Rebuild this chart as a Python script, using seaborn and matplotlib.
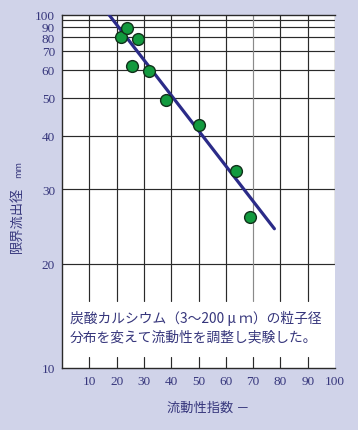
import numpy as np
import pandas as pd
import matplotlib
matplotlib.use("Agg")
import matplotlib.pyplot as plt
import seaborn as sns

# ---- data ----
flow_index = [21.5, 23.9, 27.9, 25.8, 31.8, 38.0, 50.2, 63.6, 68.9]
critical_diameter = [80.7, 88.7, 79.0, 61.7, 59.7, 49.2, 42.7, 33.0, 25.8]
fit_x = [17.2, 77.8]
fit_y = [100.0, 24.2]
x_ticks = [10, 20, 30, 40, 50, 60, 70, 80, 90, 100]
y_ticks = [10, 20, 30, 40, 50, 60, 70, 80, 90, 100]
y_minor = [95]
note = "炭酸カルシウム（3～200 μ ｍ）の粒子径\n分布を変えて流動性を調整し実験した。"
xlabel = "流動性指数 －"
ylabel = "限界流出径"
yunit = "mm"

# ---- styling ----
BG = "#d0d3e9"
TXT = "#36367c"
GRID = "#2a2a2a"
LINE = "#2b2b88"
DOT = "#129a3e"

sns.set_theme(style="white")
plt.rcParams["font.family"] = ["Noto Sans CJK JP", "DejaVu Sans"]

# hand-drawn logarithmic axis: calibration of the printed grid
_cal_v = np.log10([1, 10, 20, 30, 40, 50, 60, 70, 80, 90, 95, 100, 1000])
_cal_f = np.array([-0.978, 0, 0.2944, 0.5066, 0.6567, 0.7651, 0.8435,
                   0.8981, 0.9360, 0.9660, 0.9858, 1.0, 1.637])


def fwd(v):
    v = np.clip(np.asarray(v, dtype=float), 1, 1000)
    return np.interp(np.log10(v), _cal_v, _cal_f)


def inv(f):
    f = np.clip(np.asarray(f, dtype=float), _cal_f[0], _cal_f[-1])
    return 10 ** np.interp(f, _cal_f, _cal_v)


fig = plt.figure(figsize=(3.58, 4.31), dpi=100, facecolor=BG)
ax = fig.add_axes([62 / 358, 1 - 369 / 431, (335 - 62) / 358, (369 - 15.7) / 431])
ax.set_facecolor("white")
ax.set_yscale("function", functions=(fwd, inv))
ax.set_xlim(0, 100)
ax.set_ylim(10, 100)

# grid
for yv in y_ticks[1:-1] + y_minor:
    ax.axhline(yv, color=GRID, lw=0.85, zorder=1)
for xv in x_ticks[:-1]:
    c = "#8a8a8a" if xv == 70 else GRID
    ax.axvline(xv, ymin=0.1905, ymax=1, color=c, lw=0.85, zorder=1)
    ax.axvline(xv, ymin=0, ymax=0.030, color=GRID, lw=0.85, zorder=1)
ax.axvline(100, ymin=0.2944, ymax=1, color="#7a7a7a", lw=1.0, zorder=1)

df_pts = pd.DataFrame({"flow": flow_index, "dia": critical_diameter})
df_fit = pd.DataFrame({"flow": fit_x, "dia": fit_y})
sns.lineplot(data=df_fit, x="flow", y="dia", color=LINE, lw=2.3, ax=ax, zorder=3)
sns.scatterplot(data=df_pts, x="flow", y="dia", s=72, color=DOT, edgecolor="#10301a",
                linewidth=1.0, ax=ax, zorder=4)

ax.set_xticks(x_ticks)
ax.set_yticks(y_ticks)
ax.set_yticks([], minor=True)
ax.set_xticklabels([str(v) for v in x_ticks], family="Liberation Serif", fontsize=9.5, color=TXT)
ax.set_yticklabels([str(v) for v in y_ticks], family="Liberation Serif", fontsize=9.5, color=TXT)
ax.tick_params(axis="both", length=0, pad=5)
ax.set_xlabel("")
ax.set_ylabel("")

for s in ["left", "bottom", "top"]:
    ax.spines[s].set_color(GRID)
    ax.spines[s].set_linewidth(1.0)
ax.spines["right"].set_visible(False)

fig.text(70 / 358, 1 - 328 / 431, note, ha="left", va="center",
         fontsize=9.9, color=TXT, linespacing=1.4, zorder=5)

fig.text(167 / 358, 1 - 408 / 431, xlabel, ha="left", va="center", fontsize=9.5, color=TXT)
fig.text(17.5 / 358, 1 - 220 / 431, ylabel, ha="center", va="center", rotation=90,
         fontsize=9.5, color=TXT)
fig.text(18.5 / 358, 1 - 169 / 431, yunit, ha="center", va="center", rotation=90,
         fontsize=6.5, color=TXT)

fig.savefig("out.png", dpi=100, facecolor=BG)
